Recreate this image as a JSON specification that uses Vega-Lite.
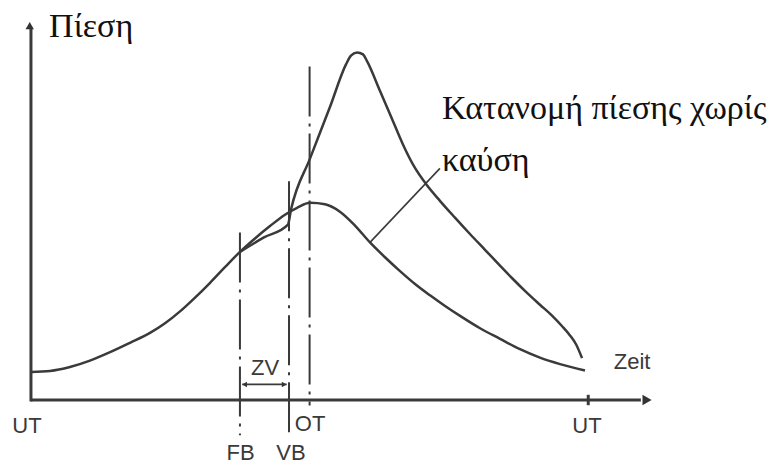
{
  "$schema": "https://vega.github.io/schema/vega-lite/v6.json",
  "width": 774,
  "height": 465,
  "autosize": {"type": "fit", "contains": "padding"},
  "padding": 0,
  "background": "white",
  "config": {"view": {"stroke": null}},
  "datasets": {
    "motored": [
      {"deg": -180, "p": 7.0}, {"deg": -167.7, "p": 7.25}, {"deg": -154.8, "p": 8.24},
      {"deg": -141.9, "p": 9.84}, {"deg": -128.9, "p": 11.95}, {"deg": -116.0, "p": 14.3},
      {"deg": -103.1, "p": 16.77}, {"deg": -93.4, "p": 19.18}, {"deg": -83.7, "p": 22.15},
      {"deg": -74.0, "p": 25.6}, {"deg": -64.3, "p": 29.31}, {"deg": -54.7, "p": 33.21},
      {"deg": -45.0, "p": 37.03}, {"deg": -35.3, "p": 40.39}, {"deg": -25.6, "p": 43.48},
      {"deg": -15.9, "p": 46.33}, {"deg": -8.1, "p": 48.06}, {"deg": 0.3, "p": 49.29},
      {"deg": 10.0, "p": 48.92}, {"deg": 19.6, "p": 47.07}, {"deg": 29.3, "p": 43.61},
      {"deg": 39.0, "p": 39.4}, {"deg": 48.7, "p": 35.69}, {"deg": 58.4, "p": 32.23},
      {"deg": 68.1, "p": 29.01}, {"deg": 77.8, "p": 26.17}, {"deg": 87.5, "p": 23.5},
      {"deg": 97.2, "p": 21.02}, {"deg": 110.1, "p": 17.93}, {"deg": 123.0, "p": 15.29},
      {"deg": 135.9, "p": 12.69}, {"deg": 148.8, "p": 10.59}, {"deg": 161.8, "p": 8.98},
      {"deg": 177.9, "p": 7.37}
    ],
    "fired": [
      {"deg": -45.0, "p": 37.03}, {"deg": -29.5, "p": 40.64}, {"deg": -14.0, "p": 43.85},
      {"deg": -12.0, "p": 47.6}, {"deg": 0.3, "p": 60.4}, {"deg": 13.2, "p": 73.3},
      {"deg": 23.5, "p": 83.9}, {"deg": 26.7, "p": 86.1}, {"deg": 30.6, "p": 86.9},
      {"deg": 34.5, "p": 86.4}, {"deg": 37.1, "p": 84.7}, {"deg": 45.5, "p": 77.24},
      {"deg": 53.2, "p": 70.32}, {"deg": 60.3, "p": 63.89}, {"deg": 67.4, "p": 58.45},
      {"deg": 75.2, "p": 53.99}, {"deg": 84.2, "p": 49.79}, {"deg": 93.9, "p": 45.59},
      {"deg": 103.6, "p": 41.5}, {"deg": 113.3, "p": 37.55}, {"deg": 123.0, "p": 33.59},
      {"deg": 130.7, "p": 30.5}, {"deg": 139.1, "p": 27.28}, {"deg": 148.8, "p": 23.82},
      {"deg": 156.6, "p": 21.1}, {"deg": 163.0, "p": 18.5}, {"deg": 168.2, "p": 16.15},
      {"deg": 172.1, "p": 13.93}, {"deg": 176.0, "p": 10.46}
    ],
    "markers": [
      {"name": "FB", "deg": -45.0, "top": 41.9, "bottom": -8.8},
      {"name": "VB", "deg": -13.3, "top": 54.7, "bottom": -8.8},
      {"name": "OT", "deg": 0, "top": 83.4, "bottom": -1.4}
    ],
    "segments": [
      {"part": "x axis", "deg": -180, "deg2": 214, "p": 0, "p2": 0, "w": 3},
      {"part": "y axis", "deg": -180, "deg2": -180, "p": -0.4, "p2": 93, "w": 3},
      {"part": "UT tick", "deg": 180, "deg2": 180, "p": 1.3, "p2": -1.3, "w": 3},
      {"part": "ZV span", "deg": -43.5, "deg2": -14.8, "p": 3.9, "p2": 3.9, "w": 1.8},
      {"part": "leader", "deg": 39.0, "deg2": 84.2, "p": 39.4, "p2": 57.9, "w": 1.6}
    ],
    "heads": [
      {"deg": -180.8, "p": 93.6, "shape": "triangle-up", "size": 70},
      {"deg": 218.0, "p": 0, "shape": "triangle-right", "size": 110},
      {"deg": -42.0, "p": 3.9, "shape": "triangle-left", "size": 30},
      {"deg": -16.4, "p": 3.9, "shape": "triangle-right", "size": 30}
    ],
    "tags": [
      {"t": "UT", "deg": -182.6, "p": -6.4},
      {"t": "OT", "deg": 0.3, "p": -5.9},
      {"t": "UT", "deg": 179.2, "p": -6.4},
      {"t": "FB", "deg": -44.6, "p": -13.3},
      {"t": "VB", "deg": -12.0, "p": -13.3},
      {"t": "ZV", "deg": -28.8, "p": 8.0},
      {"t": "Zeit", "deg": 208.3, "p": 9.5}
    ],
    "notes": [
      {"t": "Πίεση", "deg": -168.3, "p": 90.8},
      {"t": "Κατανομή πίεσης χωρίς", "deg": 85.5, "p": 70.3},
      {"t": "καύση", "deg": 85.5, "p": 57.2}
    ]
  },
  "encoding": {
    "x": {"field": "deg", "type": "quantitative", "axis": null,
          "scale": {"domain": [-200, 300], "nice": false, "zero": false}},
    "y": {"field": "p", "type": "quantitative", "axis": null,
          "scale": {"domain": [-15, 100], "nice": false, "zero": false}}
  },
  "layer": [
    {
      "data": {"name": "motored"},
      "mark": {"type": "line", "interpolate": "monotone", "color": "#3a3a3a", "strokeWidth": 2.5}
    },
    {
      "data": {"name": "fired"},
      "mark": {"type": "line", "interpolate": "monotone", "color": "#3a3a3a", "strokeWidth": 2.5}
    },
    {
      "data": {"name": "markers"},
      "mark": {"type": "rule", "color": "#3a3a3a", "strokeWidth": 2, "strokeDash": [50, 7, 3, 7], "strokeCap": "butt"},
      "encoding": {
        "y": {"field": "top", "type": "quantitative"},
        "y2": {"field": "bottom"}
      }
    },
    {
      "data": {"name": "segments"},
      "mark": {"type": "rule", "color": "#3a3a3a", "strokeCap": "butt"},
      "encoding": {
        "x2": {"field": "deg2"},
        "y2": {"field": "p2"},
        "strokeWidth": {"field": "w", "type": "quantitative", "scale": null}
      }
    },
    {
      "data": {"name": "heads"},
      "mark": {"type": "point", "filled": true, "color": "#333333", "opacity": 1},
      "encoding": {
        "shape": {"field": "shape", "type": "nominal", "scale": null},
        "size": {"field": "size", "type": "quantitative", "scale": null}
      }
    },
    {
      "data": {"name": "tags"},
      "mark": {"type": "text", "font": "Liberation Sans", "fontSize": 22, "color": "#3a3a3a",
               "align": "center", "baseline": "middle"},
      "encoding": {"text": {"field": "t"}}
    },
    {
      "data": {"name": "notes"},
      "mark": {"type": "text", "font": "Liberation Serif", "fontSize": 34, "color": "#111111",
               "align": "left", "baseline": "alphabetic"},
      "encoding": {"text": {"field": "t"}}
    }
  ]
}
